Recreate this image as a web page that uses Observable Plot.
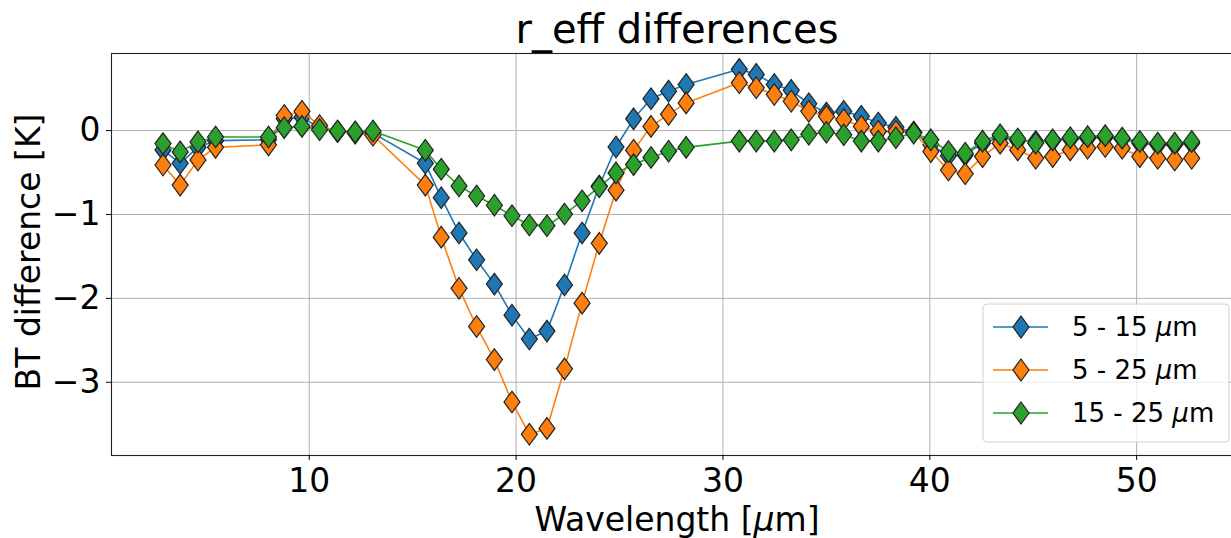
<!DOCTYPE html>
<html><head><meta charset="utf-8">
<script src="https://cdn.jsdelivr.net/npm/d3@7"></script>
<script src="https://cdn.jsdelivr.net/npm/@observablehq/plot@0.6"></script>
<style>
body{margin:0;background:#fff;}
#wrap{position:relative;width:1231px;height:538px;overflow:hidden;font-family:"DejaVu Sans",sans-serif;}
#wrap svg{position:absolute;left:0;top:0;}
</style></head><body><div id="wrap"></div>
<script>
const wavelength = [2.93,3.76,4.62,5.47,8.03,8.79,9.65,10.50,11.37,12.22,13.08,
  15.61,16.38,17.24,18.09,18.95,19.80,20.64,21.49,22.34,23.19,24.02,24.83,25.68,26.52,27.37,28.22,
  30.79,31.61,32.48,33.30,34.15,35.00,35.84,36.69,37.51,38.36,39.22,40.05,40.90,41.71,42.55,43.40,44.25,45.12,45.94,46.79,47.63,48.48,49.30,50.15,51.02,51.84,52.66];
const diff_5_15 = [-0.23,-0.39,-0.20,-0.12,-0.11,0.14,0.16,0.03,-0.01,-0.02,-0.03,
  -0.39,-0.80,-1.22,-1.54,-1.83,-2.20,-2.485,-2.39,-1.84,-1.22,-0.66,-0.195,0.14,0.38,0.47,0.55,
  0.73,0.67,0.55,0.48,0.32,0.21,0.23,0.17,0.09,0.04,-0.02,-0.17,-0.30,-0.29,-0.15,-0.08,-0.12,-0.13,-0.12,-0.10,-0.09,-0.08,-0.10,-0.15,-0.17,-0.17,-0.15];
const diff_5_25 = [-0.41,-0.65,-0.35,-0.20,-0.17,0.18,0.23,0.06,-0.01,-0.03,-0.056,
  -0.65,-1.27,-1.88,-2.335,-2.73,-3.235,-3.62,-3.55,-2.84,-2.057,-1.344,-0.71,-0.234,0.05,0.194,0.33,
  0.57,0.51,0.43,0.35,0.23,0.17,0.13,0.05,-0.01,-0.01,-0.02,-0.25,-0.47,-0.515,-0.31,-0.15,-0.23,-0.33,-0.31,-0.23,-0.21,-0.19,-0.21,-0.31,-0.33,-0.35,-0.33];
const diff_15_25 = [-0.155,-0.254,-0.135,-0.076,-0.076,0.035,0.05,0.01,-0.005,-0.016,-0.005,
  -0.234,-0.46,-0.66,-0.78,-0.89,-1.015,-1.126,-1.134,-0.995,-0.837,-0.67,-0.504,-0.405,-0.32,-0.246,-0.20,
  -0.125,-0.125,-0.125,-0.11,-0.044,-0.02,-0.05,-0.125,-0.125,-0.085,-0.03,-0.11,-0.25,-0.27,-0.125,-0.05,-0.10,-0.15,-0.11,-0.085,-0.072,-0.06,-0.09,-0.13,-0.15,-0.15,-0.13];
const seriesNames = ["5 - 15", "5 - 25", "15 - 25"];
const seriesColors = ["#1f77b4", "#ff7f0e", "#2ca02c"];
const xTicks = [10, 20, 30, 40, 50];
const yTicks = [0, -1, -2, -3];
const titleText = "r_eff differences";
const xLabel = "Wavelength [";
const yLabel = "BT difference [K]";

const seriesValues = [diff_5_15, diff_5_25, diff_15_25];
const rows = [];
seriesValues.forEach((vals, s) => vals.forEach((v, i) => rows.push({s, x: wavelength[i], y: v})));

const thinDiamond = {draw(ctx) { const h = 10.8, w = 8; ctx.moveTo(0, -h); ctx.lineTo(w, 0); ctx.lineTo(0, h); ctx.lineTo(-w, 0); ctx.closePath(); }};

const W = 1231, H = 538, mL = 111, mT = 53, mB = 83, mR = -11.7;
const marks = [
  Plot.ruleX(xTicks, {stroke: "#b0b0b0", strokeWidth: 1}),
  Plot.ruleY(yTicks, {stroke: "#b0b0b0", strokeWidth: 1})
];
seriesValues.forEach((_, s) => {
  const d = rows.filter(r => r.s === s);
  marks.push(Plot.line(d, {x: "x", y: "y", stroke: seriesColors[s], strokeWidth: 1.6}));
  marks.push(Plot.dot(d, {x: "x", y: "y", symbol: thinDiamond, fill: seriesColors[s], stroke: "#222", strokeWidth: 1.2}));
});
marks.push(Plot.frame({stroke: "#222", strokeWidth: 1.1}));
marks.push(Plot.axisX({ticks: xTicks, tickSize: 5, tickPadding: 8, fontSize: 33, label: null, tickFormat: d => String(d)}));
marks.push(Plot.axisY({ticks: yTicks, tickSize: 5, tickPadding: 6, fontSize: 33, label: null, tickFormat: d => d < 0 ? "\u2212" + Math.abs(d) : String(d)}));

const chart = Plot.plot({
  width: W, height: H,
  marginLeft: mL, marginTop: mT, marginBottom: mB, marginRight: mR,
  style: {fontFamily: "DejaVu Sans", color: "#000", background: "transparent"},
  x: {domain: [0.44, 55.15]},
  y: {domain: [-3.873, 0.919]},
  marks
});
const wrap = document.getElementById("wrap");
wrap.appendChild(chart);

// overlay: title, axis labels, legend
const ov = d3.select(wrap).append("svg").attr("width", W).attr("height", H)
  .attr("font-family", "DejaVu Sans").attr("fill", "#000");
ov.append("text").attr("x", 677).attr("y", 43)
  .attr("text-anchor", "middle").attr("font-size", 40).text(titleText);
const xl = ov.append("text").attr("x", 677).attr("y", 531)
  .attr("text-anchor", "middle").attr("font-size", 33);
xl.append("tspan").text(xLabel);
xl.append("tspan").attr("font-style", "italic").text("\u03bc");
xl.append("tspan").text("m]");
ov.append("text").attr("transform", "translate(40,252) rotate(-90)")
  .attr("text-anchor", "middle").attr("font-size", 33).text(yLabel);

const lg = ov.append("g");
lg.append("rect").attr("x", 983).attr("y", 304).attr("width", 246).attr("height", 138)
  .attr("rx", 4).attr("fill", "white").attr("fill-opacity", 0.8).attr("stroke", "#d0d0d0");
seriesNames.forEach((nm, i) => {
  const cy = 327 + i * 43;
  lg.append("line").attr("x1", 993).attr("x2", 1048).attr("y1", cy).attr("y2", cy)
    .attr("stroke", seriesColors[i]).attr("stroke-width", 1.6);
  lg.append("path").attr("d", "M0,-11L8,0L0,11L-8,0Z").attr("transform", `translate(1021,${cy})`)
    .attr("fill", seriesColors[i]).attr("stroke", "#222").attr("stroke-width", 1.2);
  const t = lg.append("text").attr("x", 1072).attr("y", cy + 9).attr("font-size", 26);
  t.append("tspan").text(nm + " ");
  t.append("tspan").attr("font-style", "italic").text("\u03bc");
  t.append("tspan").text("m");
});
</script></body></html>
